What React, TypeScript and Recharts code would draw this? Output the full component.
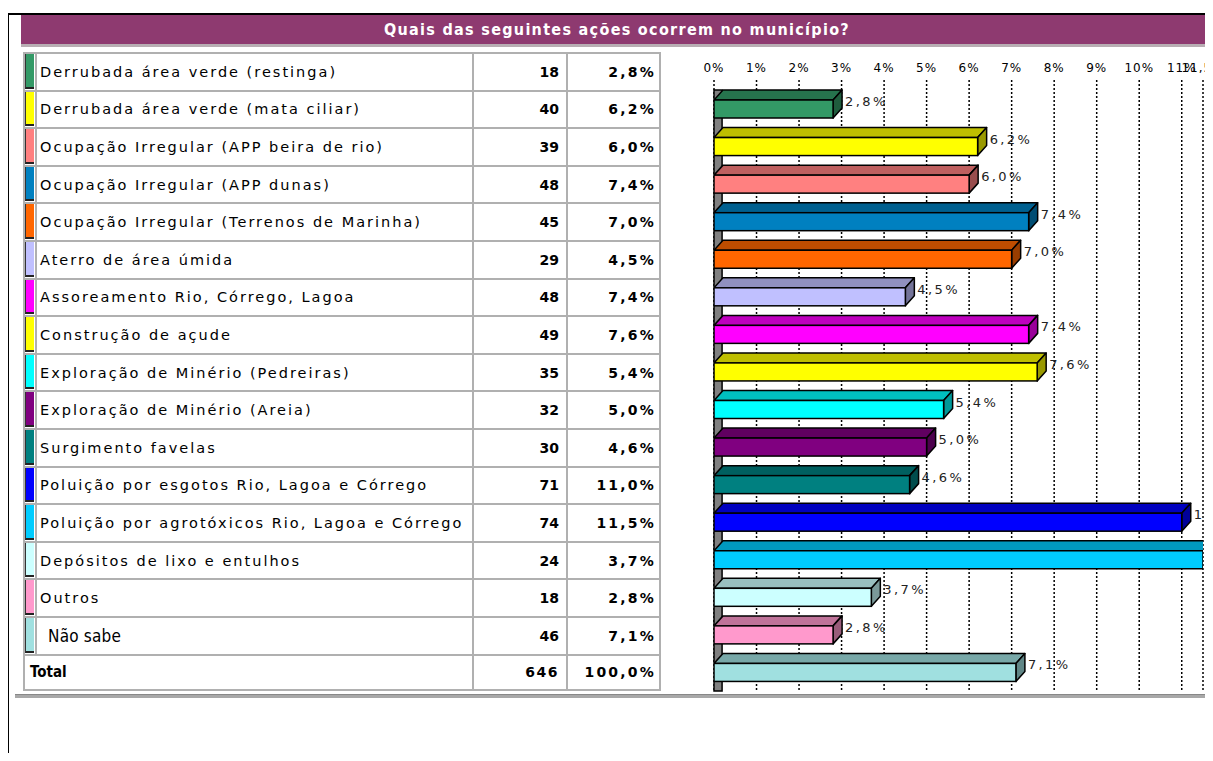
import React from "react";
import {
  BarChart,
  Bar,
  XAxis,
  YAxis,
  CartesianGrid,
  ReferenceArea,
} from "recharts";

const labels = [
  "Derrubada área verde (restinga)",
  "Derrubada área verde (mata ciliar)",
  "Ocupação Irregular (APP beira de rio)",
  "Ocupação Irregular (APP dunas)",
  "Ocupação Irregular (Terrenos de Marinha)",
  "Aterro de área úmida",
  "Assoreamento Rio, Córrego, Lagoa",
  "Construção de açude",
  "Exploração de Minério (Pedreiras)",
  "Exploração de Minério (Areia)",
  "Surgimento favelas",
  "Poluição por esgotos Rio, Lagoa e Córrego",
  "Poluição por agrotóxicos Rio, Lagoa e Córrego",
  "Depósitos de lixo e entulhos",
  "Outros",
  "Não sabe",
];
const counts = [18, 40, 39, 48, 45, 29, 48, 49, 35, 32, 30, 71, 74, 24, 18, 46];
const percents = [2.8, 6.2, 6.0, 7.4, 7.0, 4.5, 7.4, 7.6, 5.4, 5.0, 4.6, 11.0, 11.5, 3.7, 2.8, 7.1];
const totalCount = 646;
const totalPercent = 100.0;
const axisTicks = [0, 1, 2, 3, 4, 5, 6, 7, 8, 9, 10, 11, 11.5];

const BAR_COLORS = [
  "#339966", "#FFFF00", "#FF8080", "#0080C0", "#FF6600", "#C0C0FF",
  "#FF00FF", "#FFFF00", "#00FFFF", "#800080", "#008080", "#0000FF",
  "#00CCFF", "#CCFFFF", "#FF99CC", "#A0E0E0",
];

const data = labels.map((name, i) => ({ name, pct: percents[i] }));

const fmt = (v: number) => v.toFixed(1).replace(".", ",") + "%";

function shade(hex: string, k: number) {
  const n = parseInt(hex.slice(1), 16);
  const r = Math.round(((n >> 16) & 255) * k);
  const g = Math.round(((n >> 8) & 255) * k);
  const b = Math.round((n & 255) * k);
  return `rgb(${r},${g},${b})`;
}

const DX = 9;
const DY = 10;

function Bar3D(props: any) {
  const { x, y, width, height, index, payload } = props;
  const c = BAR_COLORS[index] || "#999";
  const top = `${x},${y} ${x + DX},${y - DY} ${x + width + DX},${y - DY} ${x + width},${y}`;
  const side = `${x + width},${y} ${x + width + DX},${y - DY} ${x + width + DX},${y + height - DY} ${x + width},${y + height}`;
  return (
    <g>
      <polygon points={top} fill={shade(c, 0.75)} stroke="#000" strokeWidth={1.5} strokeLinejoin="round" />
      <polygon points={side} fill={shade(c, 0.6)} stroke="#000" strokeWidth={1.5} strokeLinejoin="round" />
      <rect x={x} y={y} width={width} height={height} fill={c} stroke="#000" strokeWidth={1.5} />
      <text
        x={x + width + DX + 3}
        y={y + 6}
        fontSize={13}
        fontFamily="DejaVu Sans"
        letterSpacing={2.4}
        fill="#222"
      >
        {fmt(payload.pct)}
      </text>
    </g>
  );
}

const cellBorder = "2px solid #b0b0b0";
const rowH = 35.6;

function DataTable() {
  return (
    <table
      style={{
        position: "absolute",
        left: 23,
        top: 52,
        width: 638,
        borderCollapse: "collapse",
        tableLayout: "fixed",
        border: "2px solid #8a8a8a",
        fontFamily: "DejaVu Sans",
        color: "#000",
      }}
    >
      <colgroup>
        <col style={{ width: 12 }} />
        <col style={{ width: 437 }} />
        <col style={{ width: 94 }} />
        <col style={{ width: 93 }} />
      </colgroup>
      <tbody>
        {labels.map((name, i) => (
          <tr key={name} style={{ height: rowH }}>
            <td style={{ border: cellBorder, padding: 0, height: rowH, verticalAlign: "top" }}>
              <div
                style={{
                  width: 9,
                  height: rowH - 1,
                  background: BAR_COLORS[i],
                  borderLeft: "1px solid #333",
                  borderBottom: "2px solid #222",
                  boxSizing: "border-box",
                }}
              />
            </td>
            <td
              style={{
                border: cellBorder,
                padding: i === 15 ? "0 0 0 11px" : "0 0 0 3px",
                fontSize: i === 15 ? 17 : 14.5,
                fontFamily: i === 15 ? "DejaVu Sans Condensed" : "DejaVu Sans",
                fontWeight: i === 15 ? 300 : 400,
                letterSpacing: i === 15 ? 0.2 : 2,
                whiteSpace: "nowrap",
                overflow: "hidden",
              }}
            >
              {name}
            </td>
            <td style={{ border: cellBorder, textAlign: "right", padding: "0 7px 0 0", fontWeight: "bold", fontSize: 14 }}>
              {counts[i]}
            </td>
            <td style={{ border: cellBorder, textAlign: "right", padding: "0 3px 0 0", fontWeight: "bold", fontSize: 14, letterSpacing: 2.2 }}>
              {fmt(percents[i])}
            </td>
          </tr>
        ))}
        <tr style={{ height: rowH }}>
          <td
            colSpan={2}
            style={{ border: cellBorder, padding: "0 0 0 5px", fontWeight: "bold", fontSize: 15, fontFamily: "DejaVu Sans Condensed" }}
          >
            Total
          </td>
          <td style={{ border: cellBorder, textAlign: "right", padding: "0 7px 0 0", fontWeight: "bold", fontSize: 14, letterSpacing: 1.5 }}>
            {totalCount}
          </td>
          <td style={{ border: cellBorder, textAlign: "right", padding: "0 3px 0 0", fontWeight: "bold", fontSize: 14, letterSpacing: 2.2 }}>
            {fmt(totalPercent)}
          </td>
        </tr>
      </tbody>
    </table>
  );
}

export default function App() {
  return (
    <div
      style={{
        position: "relative",
        margin: -8,
        width: 1213,
        height: 761,
        overflow: "hidden",
        background: "#fff",
      }}
    >
      <div style={{ position: "absolute", left: 7, top: 13, width: 1206, height: 2, background: "#000" }} />
      <div style={{ position: "absolute", left: 7, top: 13, width: 2, height: 748, background: "#000" }} />
      <div
        style={{
          position: "absolute",
          left: 21,
          top: 15,
          width: 1192,
          height: 29,
          background: "#8E3A70",
          color: "#fff",
          textAlign: "center",
          lineHeight: "29px",
          fontFamily: "DejaVu Sans Condensed",
          fontWeight: "bold",
          fontSize: 16,
          letterSpacing: 1.3,
        }}
      >
        Quais das seguintes ações ocorrem no município?
      </div>
      <div style={{ position: "absolute", left: 21, top: 44, width: 1192, height: 3, background: "#b8aeb3" }} />

      <DataTable />

      <div style={{ position: "absolute", left: 15, top: 694, width: 1198, height: 3, background: "#a8a8a8", borderTop: "1px solid #888" }} />

      <div style={{ position: "absolute", left: 690, top: 50 }}>
        <BarChart
          width={523}
          height={650}
          data={data}
          layout="vertical"
          margin={{ top: 0, right: 10, bottom: 9, left: 24 }}
          barSize={18}
        >
          <CartesianGrid
            horizontal={false}
            stroke="#000"
            strokeWidth={1.5}
            strokeDasharray="2 2"
          />
          <XAxis
            type="number"
            orientation="top"
            domain={[0, 11.5]}
            ticks={axisTicks}
            tickFormatter={(v: number) => (v === 11.5 ? "11,5%" : `${v}%`)}
            axisLine={false}
            tickLine={false}
            height={30}
            allowDataOverflow
            interval={0}
            tick={{ fill: "#000", fontSize: 12, fontFamily: "DejaVu Sans", letterSpacing: 1 }}
          />
          <YAxis type="category" dataKey="name" hide width={0} padding={{ top: 10, bottom: 0 }} />
          <ReferenceArea x1={0} x2={0.19} fill="#808080" fillOpacity={1} stroke="#000" strokeWidth={1.5} />
          <Bar dataKey="pct" shape={<Bar3D />} isAnimationActive={false} />
        </BarChart>
      </div>
    </div>
  );
}
